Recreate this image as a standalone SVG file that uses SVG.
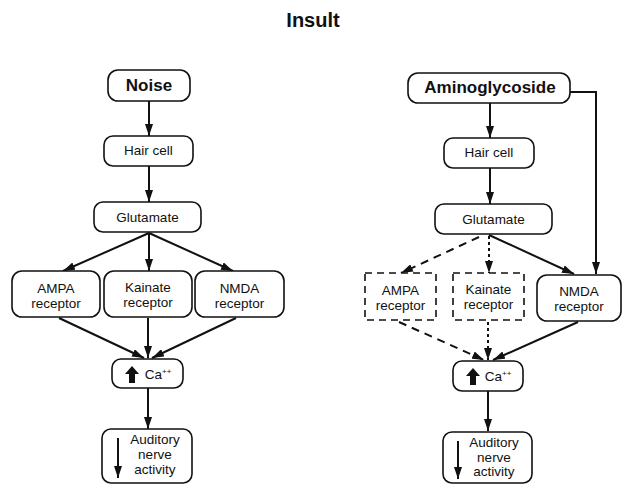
<svg xmlns="http://www.w3.org/2000/svg" width="622" height="484" viewBox="0 0 622 484">
<style>
.box{fill:#fff;stroke:#111;stroke-width:1.6}
.dbox{fill:#fff;stroke:#111;stroke-width:1.6;stroke-dasharray:7 5}
.t{font-family:"Liberation Sans",Arial,sans-serif;font-size:13.5px;fill:#111;text-anchor:middle}
.b{font-family:"Liberation Sans",Arial,sans-serif;font-size:17px;font-weight:bold;fill:#111;text-anchor:middle}
.c{stroke:#111;stroke-width:2;fill:none}
.dash{stroke-dasharray:8 6}
.dot{stroke-dasharray:3 3}
</style>
<defs>
<marker id="ah" viewBox="0 0 12 8" refX="12" refY="4" markerWidth="12" markerHeight="8" markerUnits="userSpaceOnUse" orient="auto">
<path d="M0,0 L12,4 L0,8 z" fill="#111"/>
</marker>
</defs>
<rect width="622" height="484" fill="#fff"/>
<text x="313" y="27" class="b" style="font-size:20px">Insult</text>

<g id="connectors">
<line class="c" x1="149" y1="101" x2="149" y2="136" marker-end="url(#ah)"/>
<line class="c" x1="149" y1="166" x2="149" y2="202" marker-end="url(#ah)"/>
<line class="c" x1="149" y1="233" x2="63" y2="271" marker-end="url(#ah)"/>
<line class="c" x1="149" y1="233" x2="149" y2="271" marker-end="url(#ah)"/>
<line class="c" x1="149" y1="233" x2="233" y2="271" marker-end="url(#ah)"/>
<line class="c" x1="59" y1="318" x2="144" y2="358" marker-end="url(#ah)"/>
<line class="c" x1="148" y1="318" x2="148" y2="358" marker-end="url(#ah)"/>
<line class="c" x1="236" y1="318" x2="152" y2="358" marker-end="url(#ah)"/>
<line class="c" x1="148" y1="388" x2="148" y2="429" marker-end="url(#ah)"/>

<line class="c" x1="490" y1="103" x2="490" y2="138" marker-end="url(#ah)"/>
<polyline class="c" points="570,92 596,92 596,274" marker-end="url(#ah)"/>
<line class="c" x1="490" y1="168" x2="490" y2="204" marker-end="url(#ah)"/>
<line class="c dash" x1="479" y1="237" x2="401" y2="273" marker-end="url(#ah)"/>
<line class="c dot" x1="489" y1="236" x2="489" y2="273" marker-end="url(#ah)"/>
<line class="c" x1="489" y1="235" x2="574" y2="274" marker-end="url(#ah)"/>
<line class="c dash" x1="399" y1="322" x2="484" y2="360" marker-end="url(#ah)"/>
<line class="c dot" x1="488" y1="322" x2="488" y2="360" marker-end="url(#ah)"/>
<line class="c" x1="578" y1="322" x2="493" y2="360" marker-end="url(#ah)"/>
<line class="c" x1="488" y1="391" x2="488" y2="431" marker-end="url(#ah)"/>
</g>

<g id="noise"><rect class="box" x="108" y="70" width="82" height="31" rx="10"/><text class="b" x="149" y="91">Noise</text></g>
<g id="haircell-l"><rect class="box" x="104" y="136" width="89" height="30" rx="9"/><text class="t" x="148.5" y="155">Hair cell</text></g>
<g id="glutamate-l"><rect class="box" x="94" y="202" width="107" height="30" rx="9"/><text class="t" x="147.5" y="222">Glutamate</text></g>
<g id="ampa-l"><rect class="box" x="12" y="271" width="88" height="46" rx="10"/><text class="t" x="56" y="293">AMPA</text><text class="t" x="56" y="308">receptor</text></g>
<g id="kainate-l"><rect class="box" x="104" y="271" width="88" height="46" rx="10"/><text class="t" x="148" y="292">Kainate</text><text class="t" x="148" y="307">receptor</text></g>
<g id="nmda-l"><rect class="box" x="195" y="271" width="89" height="46" rx="10"/><text class="t" x="239.5" y="293">NMDA</text><text class="t" x="239.5" y="308">receptor</text></g>
<g id="ca-l"><rect class="box" x="112" y="359" width="71" height="29" rx="9"/>
<polygon points="132,366 139,374 135,374 135,383 129,383 129,374 125,374" fill="#111"/>
<text class="t" x="158" y="379">Ca<tspan font-size="8" dy="-5">++</tspan></text></g>
<g id="auditory-l"><rect class="box" x="102" y="429" width="90" height="54" rx="9"/>
<line class="c" x1="118" y1="438" x2="118" y2="478" marker-end="url(#ah)"/>
<text class="t" x="155" y="444">Auditory</text><text class="t" x="155" y="459">nerve</text><text class="t" x="155" y="474">activity</text></g>

<g id="aminoglycoside"><rect class="box" x="408" y="73" width="162" height="30" rx="10"/><text class="b" x="490" y="93">Aminoglycoside</text></g>
<g id="haircell-r"><rect class="box" x="444" y="138" width="90" height="30" rx="9"/><text class="t" x="489" y="157">Hair cell</text></g>
<g id="glutamate-r"><rect class="box" x="435" y="204" width="117" height="30" rx="9"/><text class="t" x="493.5" y="224">Glutamate</text></g>
<g id="ampa-r"><rect class="dbox" x="365" y="273" width="71" height="47"/><text class="t" x="400.5" y="295">AMPA</text><text class="t" x="400.5" y="310">receptor</text></g>
<g id="kainate-r"><rect class="dbox" x="453" y="273" width="71" height="47"/><text class="t" x="488.5" y="294">Kainate</text><text class="t" x="488.5" y="309">receptor</text></g>
<g id="nmda-r"><rect class="box" x="537" y="275" width="84" height="46" rx="10"/><text class="t" x="579" y="296">NMDA</text><text class="t" x="579" y="311">receptor</text></g>
<g id="ca-r"><rect class="box" x="453" y="361" width="70" height="30" rx="9"/>
<polygon points="473,368 480,376 476,376 476,385 470,385 470,376 466,376" fill="#111"/>
<text class="t" x="498" y="381">Ca<tspan font-size="8" dy="-5">++</tspan></text></g>
<g id="auditory-r"><rect class="box" x="443" y="432" width="89" height="51" rx="9"/>
<line class="c" x1="458" y1="441" x2="458" y2="479" marker-end="url(#ah)"/>
<text class="t" x="494" y="447">Auditory</text><text class="t" x="494" y="462">nerve</text><text class="t" x="494" y="476">activity</text></g>
</svg>
